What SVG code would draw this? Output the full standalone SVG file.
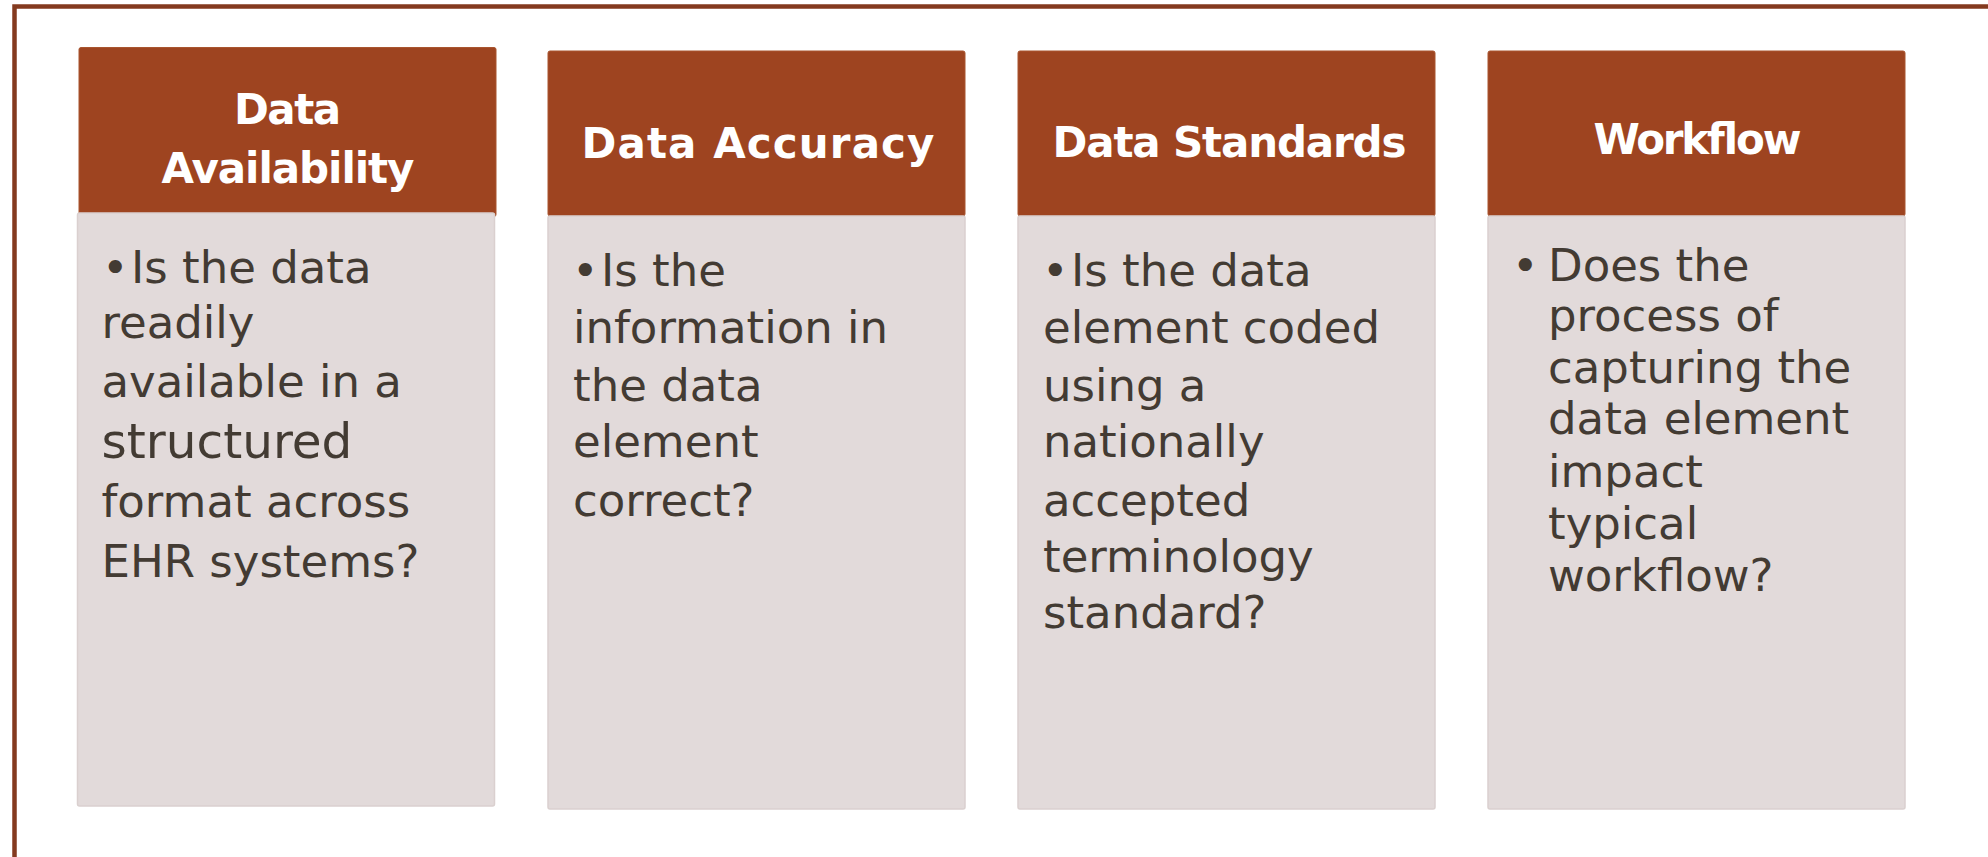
<svg xmlns="http://www.w3.org/2000/svg" width="1988" height="857" viewBox="0 0 1988 857">
  <style>
    .hdr { fill: #9E4420; stroke: #A9552F; stroke-width: 1; }
    .body { fill: #E2DADA; stroke: #DAD0CF; stroke-width: 1.5; }
    .ttl { font-family: "DejaVu Sans", "Liberation Sans", sans-serif; font-weight: bold; font-size: 42px; fill: #FFFFFF; text-anchor: middle; }
    .txt { font-family: "DejaVu Sans", "Liberation Sans", sans-serif; font-size: 45px; fill: #433B33; }
    .frame { fill: none; stroke: #843A1F; stroke-width: 4.5; }
  </style>
  <rect width="1988" height="857" fill="#FFFFFF"/>
  <path class="frame" d="M14.5,857 V6.5 H1988"/>

  <g id="node-availability">
    <rect class="hdr" x="79" y="47.5" width="417" height="169" rx="2"/>
    <rect class="body" x="77.5" y="213" width="417" height="593" rx="2"/>
    <text class="ttl" x="287.5" y="124" textLength="107">Data</text>
    <text class="ttl" x="288" y="182.7" textLength="253">Availability</text>
    <text class="txt"><tspan x="102" y="282.7">•</tspan><tspan x="131">Is the data</tspan><tspan x="101.5" y="337.7">readily</tspan><tspan x="101.5" y="397">available in a</tspan><tspan x="101.5" y="458" font-size="48.5">structured</tspan><tspan x="101.5" y="516.7">format across</tspan><tspan x="101.5" y="576.7">EHR systems?</tspan></text>
  </g>

  <g id="node-accuracy">
    <rect class="hdr" x="548" y="51" width="417" height="165" rx="2"/>
    <rect class="body" x="548" y="216" width="417" height="593" rx="2"/>
    <text class="ttl" x="758" y="157.5" textLength="353">Data Accuracy</text>
    <text class="txt"><tspan x="572" y="286">•</tspan><tspan x="601">Is the</tspan><tspan x="573" y="343">information in</tspan><tspan x="573" y="401">the data</tspan><tspan x="573" y="457">element</tspan><tspan x="573" y="516">correct?</tspan></text>
  </g>

  <g id="node-standards">
    <rect class="hdr" x="1018" y="51" width="417" height="165" rx="2"/>
    <rect class="body" x="1018" y="216" width="417" height="593" rx="2"/>
    <text class="ttl" x="1229.5" y="156.5" textLength="354">Data Standards</text>
    <text class="txt"><tspan x="1042" y="286">•</tspan><tspan x="1071">Is the data</tspan><tspan x="1043" y="343">element coded</tspan><tspan x="1043" y="401">using a</tspan><tspan x="1043" y="457">nationally</tspan><tspan x="1043" y="516">accepted</tspan><tspan x="1043" y="572">terminology</tspan><tspan x="1043" y="628">standard?</tspan></text>
  </g>

  <g id="node-workflow">
    <rect class="hdr" x="1488" y="51" width="417" height="165" rx="2"/>
    <rect class="body" x="1488" y="216" width="417" height="593" rx="2"/>
    <text class="ttl" x="1697.5" y="153.5" textLength="208">Workflow</text>
    <text class="txt"><tspan x="1512" y="281">•</tspan><tspan x="1548">Does the</tspan><tspan x="1548" y="331">process of</tspan><tspan x="1548" y="383">capturing the</tspan><tspan x="1548" y="434">data element</tspan><tspan x="1548" y="487">impact</tspan><tspan x="1548" y="539">typical</tspan><tspan x="1548" y="591">workflow?</tspan></text>
  </g>

  <g id="connectors"></g>
</svg>
